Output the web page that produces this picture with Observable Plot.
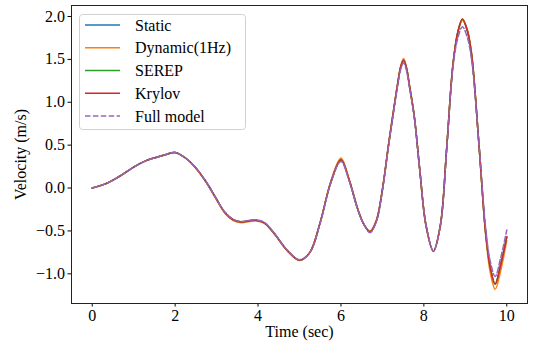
<!DOCTYPE html>
<html>
<head>
<meta charset="utf-8">
<script src="https://cdn.jsdelivr.net/npm/d3@7"></script>
<script src="https://cdn.jsdelivr.net/npm/@observablehq/plot@0.6"></script>
<style>
  html, body { margin: 0; padding: 0; background: white; }
  #wrap { position: relative; width: 535px; height: 345px; }
  #legend { position: absolute; left: 79px; top: 14px; }
  #wrap svg, #wrap svg text { font-family: "Liberation Serif", "Times New Roman", Tinos, "DejaVu Serif", serif !important; }
</style>
</head>
<body>
<div id="wrap"></div>
<script>
// Time samples (sec)
const time = [0, 0.3, 0.6, 0.8, 1.0, 1.3, 1.6, 1.8, 2.0, 2.25, 2.5, 2.75, 3.0, 3.2, 3.4, 3.6, 3.8, 3.95, 4.15, 4.4, 4.7, 5.0, 5.25, 5.5, 5.75, 6.0, 6.2, 6.4, 6.55, 6.7, 6.85, 7.0, 7.15, 7.25, 7.37, 7.44, 7.51, 7.58, 7.65, 7.77, 7.9, 8.05, 8.23, 8.4, 8.55, 8.7, 8.82, 8.93, 9.04, 9.15, 9.33, 9.49, 9.6, 9.72, 9.85, 10.0];

// Velocity (m/s) per model
const staticV = [0, 0.045, 0.12, 0.18, 0.245, 0.32, 0.365, 0.395, 0.415, 0.35, 0.235, 0.07, -0.13, -0.285, -0.37, -0.395, -0.38, -0.375, -0.405, -0.535, -0.725, -0.84, -0.75, -0.40, 0.06, 0.33, 0.09, -0.24, -0.42, -0.51, -0.39, -0.02, 0.51, 0.84, 1.22, 1.41, 1.49, 1.40, 1.20, 0.83, 0.22, -0.43, -0.735, -0.43, 0.46, 1.43, 1.82, 1.96, 1.85, 1.56, 0.50, -0.52, -0.92, -1.12, -0.90, -0.57];
const dynamicV = [0, 0.045, 0.12, 0.18, 0.245, 0.32, 0.365, 0.395, 0.415, 0.35, 0.23, 0.065, -0.14, -0.295, -0.38, -0.405, -0.39, -0.385, -0.41, -0.54, -0.73, -0.845, -0.75, -0.40, 0.07, 0.35, 0.10, -0.23, -0.42, -0.50, -0.38, -0.01, 0.52, 0.85, 1.23, 1.42, 1.51, 1.41, 1.21, 0.84, 0.21, -0.44, -0.74, -0.43, 0.47, 1.43, 1.81, 1.96, 1.86, 1.58, 0.50, -0.55, -0.98, -1.18, -0.97, -0.61];
const serepV = [0, 0.045, 0.12, 0.18, 0.245, 0.32, 0.365, 0.395, 0.415, 0.35, 0.235, 0.07, -0.13, -0.285, -0.37, -0.395, -0.38, -0.375, -0.405, -0.535, -0.725, -0.84, -0.75, -0.40, 0.06, 0.33, 0.09, -0.24, -0.42, -0.51, -0.39, -0.02, 0.51, 0.84, 1.22, 1.41, 1.49, 1.40, 1.20, 0.83, 0.22, -0.43, -0.735, -0.43, 0.46, 1.43, 1.82, 1.97, 1.85, 1.56, 0.50, -0.52, -0.92, -1.12, -0.90, -0.57];
const krylovV = [0, 0.045, 0.12, 0.18, 0.245, 0.32, 0.365, 0.395, 0.415, 0.35, 0.235, 0.07, -0.13, -0.285, -0.37, -0.395, -0.38, -0.375, -0.405, -0.535, -0.725, -0.84, -0.75, -0.40, 0.06, 0.33, 0.09, -0.24, -0.42, -0.51, -0.39, -0.02, 0.51, 0.84, 1.22, 1.41, 1.49, 1.40, 1.20, 0.83, 0.22, -0.43, -0.735, -0.43, 0.46, 1.43, 1.82, 1.97, 1.85, 1.56, 0.50, -0.52, -0.92, -1.12, -0.90, -0.57];
const fullV = [0, 0.045, 0.12, 0.18, 0.245, 0.32, 0.365, 0.395, 0.415, 0.35, 0.235, 0.07, -0.13, -0.28, -0.365, -0.39, -0.375, -0.37, -0.40, -0.53, -0.72, -0.835, -0.75, -0.41, 0.05, 0.31, 0.08, -0.24, -0.42, -0.52, -0.40, -0.03, 0.5, 0.82, 1.2, 1.38, 1.46, 1.37, 1.18, 0.82, 0.22, -0.42, -0.73, -0.43, 0.45, 1.4, 1.75, 1.88, 1.77, 1.5, 0.51, -0.46, -0.85, -1.03, -0.82, -0.49];

const seriesNames = ["Static", "Dynamic(1Hz)", "SEREP", "Krylov", "Full model"];
const seriesValues = [staticV, dynamicV, serepV, krylovV, fullV];
const seriesColors = ["#1f77b4", "#ff7f0e", "#2ca02c", "#d62728", "#9467bd"];
const seriesDash = [null, null, null, null, "5.5,2.4"];

const xTicks = [0, 2, 4, 6, 8, 10];
const yTicks = [-1.0, -0.5, 0.0, 0.5, 1.0, 1.5, 2.0];

const font = "\"Liberation Serif\", \"Times New Roman\", Tinos, \"DejaVu Serif\", serif";

const lineMarks = seriesNames.map((name, i) => {
  const rows = time.map((t, j) => ({t, v: seriesValues[i][j], s: name}));
  return Plot.line(rows, {
    x: "t", y: "v", stroke: seriesColors[i], strokeWidth: 1.5,
    strokeDasharray: seriesDash[i] || undefined,
    curve: "catmull-rom"
  });
});

const chart = Plot.plot({
  width: 535, height: 345,
  marginLeft: 71, marginRight: 8, marginTop: 5, marginBottom: 42,
  style: {fontFamily: font, fontSize: "16px", background: "white", color: "black", overflow: "visible"},
  x: {domain: [-0.5, 10.5]},
  y: {domain: [-1.346, 2.128]},
  marks: [
    Plot.axisX({ticks: xTicks, tickSize: 3.5, tickPadding: 3, fontSize: 16, tickFormat: d => String(d),
      label: "Time (sec)", labelAnchor: "center", labelArrow: "none", labelOffset: 33}),
    Plot.axisY({ticks: yTicks, tickSize: 3.5, tickPadding: 3, fontSize: 16, tickFormat: ".1f",
      label: "Velocity (m/s)", labelAnchor: "center", labelArrow: "none", labelOffset: 57}),
    ...lineMarks,
    Plot.frame({stroke: "#222", strokeWidth: 1})
  ]
});
chart.setAttribute("font-family", font);
document.getElementById("wrap").appendChild(chart);

// Legend
const lw = 167, lh = 116, rowH = 22.75, row0 = 11;
const leg = d3.select("#wrap").append("svg").attr("id", "legend")
  .attr("width", lw).attr("height", lh)
  .attr("font-family", font).attr("font-size", 16);
leg.append("rect").attr("x", 0.5).attr("y", 0.5).attr("width", lw - 1).attr("height", lh - 1)
  .attr("rx", 3).attr("fill", "rgba(255,255,255,0.8)").attr("stroke", "#d0d0d0");
seriesNames.forEach((name, i) => {
  const y = row0 + i * rowH;
  leg.append("line").attr("x1", 6).attr("x2", 41).attr("y1", y).attr("y2", y)
    .attr("stroke", seriesColors[i]).attr("stroke-width", 1.5)
    .attr("stroke-dasharray", seriesDash[i]);
  leg.append("text").attr("x", 56).attr("y", y).attr("dy", "0.35em").text(name);
});
</script>
</body>
</html>
